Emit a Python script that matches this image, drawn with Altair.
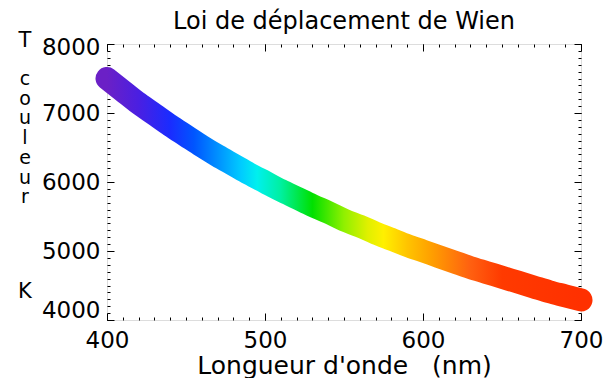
import altair as alt
import pandas as pd

# Values
wavelength_nm = [400, 410, 420, 430, 440, 450, 460, 470, 480, 490, 500,
                 510, 520, 530, 540, 550, 560, 570, 580, 590, 600,
                 610, 620, 630, 640, 650, 660, 670, 680, 690, 700]
temperature_K = [7500, 7320, 7140, 6980, 6820, 6670, 6520, 6380, 6250, 6120, 6000,
                 5880, 5770, 5660, 5560, 5450, 5360, 5260, 5170, 5080, 5000,
                 4920, 4840, 4760, 4690, 4620, 4550, 4480, 4410, 4350, 4290]

x_major = [400, 500, 600, 700]
x_minor = [400, 410, 420, 430, 440, 450, 460, 470, 480, 490, 500,
           510, 520, 530, 540, 550, 560, 570, 580, 590, 600,
           610, 620, 630, 640, 650, 660, 670, 680, 690, 700]
y_major = [4000, 5000, 6000, 7000, 8000]
y_minor = [4000 + 100 * i for i in range(41)]

y_title_top = "T"
y_title_middle = ["c", "o", "u", "l", "e", "u", "r"]
y_title_bottom = "K"

# spectrum colours along the curve (wavelength -> colour)
stop_wavelengths = [400, 420, 440, 455, 470, 485, 495, 510, 530, 550, 565, 575, 590, 605, 630, 650, 700]
stop_colors = ["#6b20c6", "#4a1fe2", "#1a2cff", "#0055ff", "#0090ff", "#00ccff", "#00f0ee",
               "#00f0a0", "#00e000", "#90f000", "#e0f000", "#fff000", "#ffc400", "#ffa000",
               "#ff6010", "#ff3a00", "#ff3000"]

df = pd.DataFrame({"wl": wavelength_nm, "T": temperature_K})

W, H = 474, 276
FONT = "DejaVu Sans"

xscale = alt.Scale(domain=[400, 700], nice=False, zero=False)
yscale = alt.Scale(domain=[4000, 8000], nice=False, zero=False)

grad = alt.LinearGradient(
    gradient="linear", x1=0, x2=1, y1=0, y2=0,
    stops=[alt.GradientStop(offset=(w - 400) / 300, color=c)
           for w, c in zip(stop_wavelengths, stop_colors)],
)

main = alt.Chart(df).mark_line(
    color=grad, strokeWidth=23, strokeCap="round", strokeJoin="round", interpolate="monotone"
).encode(
    x=alt.X("wl:Q", scale=xscale, axis=alt.Axis(
        orient="bottom", values=x_major, ticks=False, domain=False, grid=False,
        labelFont=FONT, labelFontSize=23, labelColor="black", labelPadding=9,
        labelFlush=False, format="d",
        title="Longueur d'onde\u00a0\u00a0\u00a0(nm)", titleFont=FONT, titleFontSize=25,
        titleFontWeight="normal", titleColor="black", titlePadding=1)),
    y=alt.Y("T:Q", scale=yscale, axis=alt.Axis(
        orient="left", values=y_major, ticks=False, domain=False, grid=False,
        labelFont=FONT, labelFontSize=23, labelColor="black", labelPadding=7,
        labelFlush=False, format="d", labelBaseline="middle",
        labelOffset={"condition": [{"test": "datum.value === 4000", "value": -10},
                                   {"test": "datum.value === 8000", "value": 3}],
                     "value": 0},
        title=None)),
)

one = pd.DataFrame({"k": [0]})


def title_text(text, ypos, size):
    return alt.Chart(one).mark_text(
        text=text, font=FONT, fontSize=size, color="black", align="center",
        baseline="top", lineHeight=19.7
    ).encode(x=alt.value(-82), y=alt.value(ypos))


def tick_layer(xorient, yorient, xvals, yvals, size):
    return alt.Chart(df).mark_line(opacity=0).encode(
        x=alt.X("wl:Q", scale=xscale, axis=alt.Axis(
            orient=xorient, offset=-H, values=xvals, labels=False, domain=False, grid=False,
            ticks=True, tickSize=size, tickColor="black", tickWidth=1, title=None)),
        y=alt.Y("T:Q", scale=yscale, axis=alt.Axis(
            orient=yorient, offset=-W, values=yvals, labels=False, domain=False, grid=False,
            ticks=True, tickSize=size, tickColor="black", tickWidth=1, title=None)),
    )


chart = alt.layer(
    tick_layer("top", "right", x_minor, y_minor, 3),
    tick_layer("top", "right", x_major, y_major, 7),
    tick_layer("bottom", "left", x_minor, y_minor, 3),
    tick_layer("bottom", "left", x_major, y_major, 7),
    main,
    title_text(y_title_top, -14, 21),
    title_text(y_title_middle, 26, 19),
    title_text(y_title_bottom, 237, 21),
).resolve_axis(x="independent", y="independent").properties(
    width=W, height=H,
    title=alt.TitleParams("Loi de déplacement de Wien", font=FONT, fontSize=24,
                          fontWeight="normal", color="black", anchor="middle", offset=-4),
    autosize=alt.AutoSizeParams(type="none"),
    padding={"left": 99, "top": 36, "right": 26, "bottom": 58},
).configure_view(stroke="black", strokeWidth=1).configure(background="white")

chart.save("out.html", embed_options={"renderer": "svg", "actions": False})
